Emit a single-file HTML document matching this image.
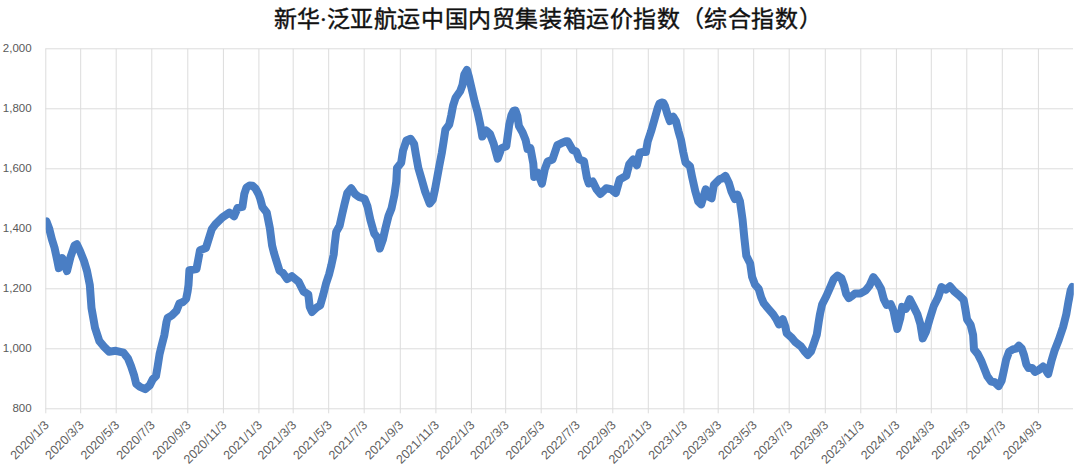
<!DOCTYPE html>
<html lang="zh-CN"><head><meta charset="utf-8"><style>
html,body{margin:0;padding:0;background:#fff;width:1080px;height:468px;overflow:hidden}
.title{position:absolute;left:273.6px;top:0px;font-family:"Liberation Serif",serif;font-weight:400;font-size:23px;color:#111;-webkit-text-stroke:0.4px #111;letter-spacing:0.6px;white-space:nowrap}
svg{position:absolute;left:0;top:0}
</style></head><body>
<div class="title">新华<span style="margin:0 -1.2px">·</span>泛亚航运中国内贸集装箱运价指数（综合指数）</div>
<svg width="1080" height="468" viewBox="0 0 1080 468">
<g stroke="#dcdcdc" stroke-width="1" fill="none">
<line x1="45.3" y1="48.8" x2="1073" y2="48.8"/>
<line x1="45.3" y1="108.8" x2="1073" y2="108.8"/>
<line x1="45.3" y1="168.8" x2="1073" y2="168.8"/>
<line x1="45.3" y1="228.8" x2="1073" y2="228.8"/>
<line x1="45.3" y1="288.8" x2="1073" y2="288.8"/>
<line x1="45.3" y1="348.8" x2="1073" y2="348.8"/>
<line x1="45.3" y1="408.8" x2="1073" y2="408.8"/>
<line x1="45.8" y1="48.8" x2="45.8" y2="413.3"/>
<line x1="80.7" y1="48.8" x2="80.7" y2="413.3"/>
<line x1="116.2" y1="48.8" x2="116.2" y2="413.3"/>
<line x1="151.8" y1="48.8" x2="151.8" y2="413.3"/>
<line x1="187.8" y1="48.8" x2="187.8" y2="413.3"/>
<line x1="223.4" y1="48.8" x2="223.4" y2="413.3"/>
<line x1="258.9" y1="48.8" x2="258.9" y2="413.3"/>
<line x1="293.2" y1="48.8" x2="293.2" y2="413.3"/>
<line x1="328.7" y1="48.8" x2="328.7" y2="413.3"/>
<line x1="364.2" y1="48.8" x2="364.2" y2="413.3"/>
<line x1="400.3" y1="48.8" x2="400.3" y2="413.3"/>
<line x1="435.9" y1="48.8" x2="435.9" y2="413.3"/>
<line x1="471.4" y1="48.8" x2="471.4" y2="413.3"/>
<line x1="505.7" y1="48.8" x2="505.7" y2="413.3"/>
<line x1="541.2" y1="48.8" x2="541.2" y2="413.3"/>
<line x1="576.7" y1="48.8" x2="576.7" y2="413.3"/>
<line x1="612.8" y1="48.8" x2="612.8" y2="413.3"/>
<line x1="648.3" y1="48.8" x2="648.3" y2="413.3"/>
<line x1="683.9" y1="48.8" x2="683.9" y2="413.3"/>
<line x1="718.2" y1="48.8" x2="718.2" y2="413.3"/>
<line x1="753.7" y1="48.8" x2="753.7" y2="413.3"/>
<line x1="789.2" y1="48.8" x2="789.2" y2="413.3"/>
<line x1="825.3" y1="48.8" x2="825.3" y2="413.3"/>
<line x1="860.8" y1="48.8" x2="860.8" y2="413.3"/>
<line x1="896.4" y1="48.8" x2="896.4" y2="413.3"/>
<line x1="931.3" y1="48.8" x2="931.3" y2="413.3"/>
<line x1="966.8" y1="48.8" x2="966.8" y2="413.3"/>
<line x1="1002.3" y1="48.8" x2="1002.3" y2="413.3"/>
<line x1="1038.4" y1="48.8" x2="1038.4" y2="413.3"/>
</g>
<g font-family="Liberation Sans, sans-serif" font-size="11.5" fill="#595959">
<text x="31.6" y="52.1" text-anchor="end">2,000</text>
<text x="31.6" y="112.1" text-anchor="end">1,800</text>
<text x="31.6" y="172.1" text-anchor="end">1,600</text>
<text x="31.6" y="232.1" text-anchor="end">1,400</text>
<text x="31.6" y="292.1" text-anchor="end">1,200</text>
<text x="31.6" y="352.1" text-anchor="end">1,000</text>
<text x="31.6" y="412.1" text-anchor="end">800</text>
</g>
<g font-family="Liberation Sans, sans-serif" font-size="12.5" fill="#606060">
<text transform="translate(49.8,425.8) rotate(-45)" text-anchor="end">2020/1/3</text>
<text transform="translate(84.7,425.8) rotate(-45)" text-anchor="end">2020/3/3</text>
<text transform="translate(120.2,425.8) rotate(-45)" text-anchor="end">2020/5/3</text>
<text transform="translate(155.8,425.8) rotate(-45)" text-anchor="end">2020/7/3</text>
<text transform="translate(191.8,425.8) rotate(-45)" text-anchor="end">2020/9/3</text>
<text transform="translate(227.4,425.8) rotate(-45)" text-anchor="end">2020/11/3</text>
<text transform="translate(262.9,425.8) rotate(-45)" text-anchor="end">2021/1/3</text>
<text transform="translate(297.2,425.8) rotate(-45)" text-anchor="end">2021/3/3</text>
<text transform="translate(332.7,425.8) rotate(-45)" text-anchor="end">2021/5/3</text>
<text transform="translate(368.2,425.8) rotate(-45)" text-anchor="end">2021/7/3</text>
<text transform="translate(404.3,425.8) rotate(-45)" text-anchor="end">2021/9/3</text>
<text transform="translate(439.9,425.8) rotate(-45)" text-anchor="end">2021/11/3</text>
<text transform="translate(475.4,425.8) rotate(-45)" text-anchor="end">2022/1/3</text>
<text transform="translate(509.7,425.8) rotate(-45)" text-anchor="end">2022/3/3</text>
<text transform="translate(545.2,425.8) rotate(-45)" text-anchor="end">2022/5/3</text>
<text transform="translate(580.7,425.8) rotate(-45)" text-anchor="end">2022/7/3</text>
<text transform="translate(616.8,425.8) rotate(-45)" text-anchor="end">2022/9/3</text>
<text transform="translate(652.3,425.8) rotate(-45)" text-anchor="end">2022/11/3</text>
<text transform="translate(687.9,425.8) rotate(-45)" text-anchor="end">2023/1/3</text>
<text transform="translate(722.2,425.8) rotate(-45)" text-anchor="end">2023/3/3</text>
<text transform="translate(757.7,425.8) rotate(-45)" text-anchor="end">2023/5/3</text>
<text transform="translate(793.2,425.8) rotate(-45)" text-anchor="end">2023/7/3</text>
<text transform="translate(829.3,425.8) rotate(-45)" text-anchor="end">2023/9/3</text>
<text transform="translate(864.8,425.8) rotate(-45)" text-anchor="end">2023/11/3</text>
<text transform="translate(900.4,425.8) rotate(-45)" text-anchor="end">2024/1/3</text>
<text transform="translate(935.3,425.8) rotate(-45)" text-anchor="end">2024/3/3</text>
<text transform="translate(970.8,425.8) rotate(-45)" text-anchor="end">2024/5/3</text>
<text transform="translate(1006.3,425.8) rotate(-45)" text-anchor="end">2024/7/3</text>
<text transform="translate(1042.4,425.8) rotate(-45)" text-anchor="end">2024/9/3</text>
</g>
<defs><clipPath id="pc"><rect x="45.8" y="0" width="1028" height="468"/></clipPath></defs>
<path clip-path="url(#pc)" d="M46.5,221.5 L49.3,229.0 L51.8,239.0 L54.5,247.6 L57.1,259.6 L58.8,268.1 L62.2,258.0 L67.0,271.0 L70.5,257.0 L74.5,245.5 L76.8,244.2 L80.0,251.0 L84.0,261.0 L87.0,271.0 L89.8,285.0 L91.5,308.0 L95.0,327.7 L99.4,341.2 L104.2,346.9 L109.0,351.7 L115.8,350.8 L123.5,352.7 L128.0,358.4 L131.0,365.9 L134.0,374.9 L136.2,383.9 L140.0,386.9 L145.2,389.1 L149.7,385.4 L152.7,379.4 L156.0,376.0 L157.5,367.4 L159.6,354.0 L161.8,345.0 L164.4,334.9 L166.5,322.0 L167.6,318.0 L171.9,315.4 L176.4,310.9 L179.4,303.5 L183.1,302.0 L186.1,299.0 L187.6,291.5 L188.5,285.0 L189.4,270.3 L196.5,269.1 L200.0,250.3 L205.9,248.0 L211.8,229.1 L215.3,224.4 L222.4,217.4 L229.4,212.6 L234.1,216.2 L237.6,207.9 L242.4,206.8 L244.3,194.0 L246.5,187.5 L249.5,185.5 L252.5,185.8 L255.5,188.5 L258.5,194.0 L260.3,199.0 L262.4,207.1 L266.7,212.4 L269.9,228.4 L272.1,245.5 L274.0,253.0 L276.3,260.5 L279.4,270.4 L283.0,273.0 L287.1,279.0 L291.9,276.2 L298.7,281.9 L303.5,291.5 L308.3,294.4 L309.7,306.8 L312.0,312.0 L316.5,307.6 L320.2,305.3 L323.2,294.9 L326.2,282.9 L329.2,273.9 L331.4,265.0 L333.7,254.5 L334.6,245.0 L336.2,231.9 L339.6,225.8 L342.0,215.0 L344.4,204.6 L347.3,193.1 L351.2,188.3 L355.0,194.0 L358.8,196.9 L364.6,198.8 L367.5,206.5 L370.4,220.0 L374.2,233.5 L377.1,237.3 L379.8,248.5 L382.8,240.0 L385.5,228.0 L388.5,216.0 L391.5,208.5 L394.4,195.0 L396.3,181.5 L397.0,167.9 L401.2,162.7 L403.0,150.8 L406.4,140.5 L410.6,138.8 L414.1,143.9 L415.8,154.2 L418.3,167.9 L421.8,179.8 L425.2,191.8 L429.7,203.6 L432.7,199.8 L435.0,189.4 L437.2,177.4 L439.4,165.4 L441.7,153.5 L443.7,141.0 L445.4,129.7 L449.2,124.6 L451.2,115.6 L453.1,105.4 L455.6,97.7 L460.1,91.3 L462.5,85.0 L464.3,74.5 L466.9,70.0 L468.8,76.3 L471.7,88.8 L474.6,101.3 L477.5,111.9 L480.4,125.4 L482.3,136.5 L486.2,130.5 L490.0,134.0 L493.8,144.2 L497.7,158.7 L501.5,148.1 L506.3,146.2 L509.2,125.0 L511.5,115.0 L513.5,111.0 L515.5,110.5 L517.4,116.0 L518.9,126.0 L522.6,132.4 L525.6,139.9 L527.5,149.0 L530.4,148.1 L533.3,163.5 L534.2,176.9 L538.1,173.1 L541.9,183.7 L544.8,169.2 L547.7,161.5 L552.5,159.6 L557.3,145.2 L561.2,143.3 L566.0,141.3 L567.7,141.2 L572.5,149.8 L576.3,151.7 L579.2,159.4 L584.0,161.3 L586.9,177.7 L588.8,183.5 L592.7,181.5 L596.5,189.2 L600.4,194.0 L606.2,188.3 L611.0,189.2 L615.8,193.1 L619.6,179.6 L626.3,175.8 L629.2,164.2 L633.1,159.4 L636.9,165.2 L639.8,152.7 L642.1,152.0 L645.9,152.0 L647.7,141.5 L651.1,131.3 L654.5,119.3 L657.9,107.4 L659.5,103.5 L661.5,102.5 L663.5,103.0 L665.0,106.0 L667.4,114.2 L669.9,121.0 L673.3,116.8 L675.9,121.0 L678.5,131.3 L681.0,140.0 L683.2,152.0 L685.5,162.4 L690.0,166.2 L692.2,177.4 L695.2,190.9 L698.2,201.3 L701.2,204.3 L705.7,189.4 L708.7,196.8 L711.6,198.3 L713.9,184.9 L719.9,178.9 L722.0,178.5 L725.4,175.9 L728.8,182.7 L731.4,191.3 L734.8,199.0 L737.4,194.7 L740.0,201.5 L742.5,219.2 L744.4,238.5 L746.3,255.8 L750.2,263.5 L752.1,276.9 L755.0,284.6 L758.7,288.8 L761.2,297.4 L763.8,303.3 L768.1,308.5 L773.2,314.4 L776.6,319.6 L779.0,324.4 L782.8,319.2 L785.4,326.9 L786.7,333.3 L791.2,337.2 L795.6,342.3 L800.8,346.2 L804.6,351.3 L807.8,355.0 L811.0,351.3 L814.2,342.3 L816.8,334.6 L818.7,321.8 L820.0,314.0 L822.1,304.5 L826.4,296.0 L830.6,286.4 L833.8,278.9 L837.6,275.5 L841.3,278.0 L844.0,285.3 L846.1,293.8 L848.8,298.1 L852.0,296.0 L855.0,293.5 L860.2,293.5 L865.6,290.6 L869.4,285.8 L873.3,277.1 L877.1,281.9 L881.0,288.7 L883.8,299.2 L886.7,305.0 L890.6,304.0 L893.5,310.8 L895.4,320.4 L897.3,329.0 L900.2,318.5 L902.1,306.9 L906.0,308.8 L909.8,299.2 L913.7,306.9 L917.5,314.6 L920.4,324.2 L922.7,338.4 L926.1,331.5 L929.5,319.6 L933.8,305.9 L938.1,297.4 L941.5,287.1 L945.8,289.7 L950.0,286.2 L954.3,291.4 L959.4,295.6 L963.7,299.9 L965.4,309.3 L967.1,319.6 L970.6,324.7 L973.1,335.0 L974.0,349.4 L977.7,353.9 L981.5,361.4 L984.4,368.9 L987.4,376.4 L991.2,381.6 L994.9,382.3 L998.7,386.1 L1001.6,380.9 L1003.9,370.4 L1006.1,359.9 L1009.1,351.7 L1012.9,349.4 L1015.9,348.7 L1018.8,345.7 L1021.8,348.7 L1024.1,355.4 L1026.3,364.4 L1028.6,368.1 L1032.3,368.1 L1035.0,371.9 L1039.2,369.7 L1043.1,366.5 L1045.6,369.7 L1048.2,374.0 L1051.4,361.2 L1054.6,350.5 L1058.8,339.8 L1063.1,327.0 L1066.3,314.2 L1068.5,301.4 L1070.6,290.7 L1072.2,287.0" fill="none" stroke="#4a7ec4" stroke-width="8" stroke-linejoin="round" stroke-linecap="round"/>
</svg>
</body></html>
